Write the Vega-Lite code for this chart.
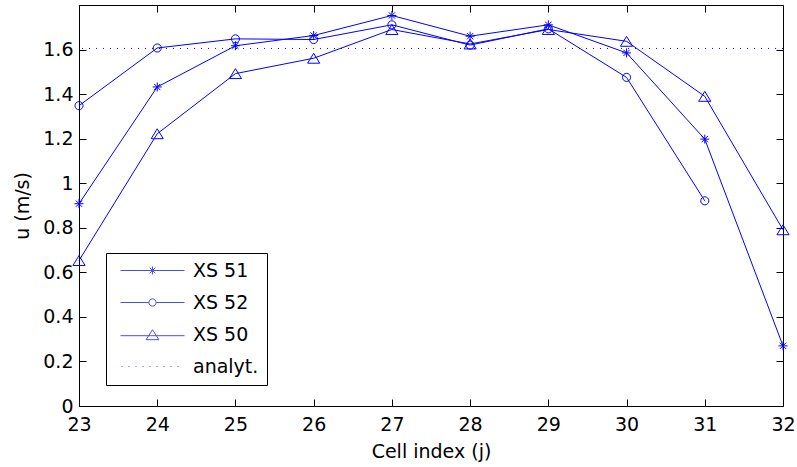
{
  "$schema": "https://vega.github.io/schema/vega-lite/v6.json",
  "width": 704,
  "height": 401,
  "autosize": {"type": "none"},
  "padding": {"left": 79, "top": 5, "right": 14, "bottom": 61},
  "background": "white",
  "config": {
    "view": {"stroke": null},
    "font": "DejaVu Sans",
    "axis": {
      "domainColor": "black", "tickColor": "black", "labelColor": "black", "titleColor": "black",
      "labelFont": "DejaVu Sans", "titleFont": "DejaVu Sans",
      "labelFontSize": 19, "titleFontSize": 19, "titleFontWeight": "normal",
      "grid": false, "tickSize": -7, "domainWidth": 1, "tickWidth": 1
    }
  },
  "datasets": {
    "pts": [
      {"series": "XS 51", "j": 23, "u": 0.908},
      {"series": "XS 51", "j": 24, "u": 1.432},
      {"series": "XS 51", "j": 25, "u": 1.617},
      {"series": "XS 51", "j": 26, "u": 1.663},
      {"series": "XS 51", "j": 27, "u": 1.753},
      {"series": "XS 51", "j": 28, "u": 1.660},
      {"series": "XS 51", "j": 29, "u": 1.711},
      {"series": "XS 51", "j": 30, "u": 1.585},
      {"series": "XS 51", "j": 31, "u": 1.198},
      {"series": "XS 51", "j": 32, "u": 0.270},
      {"series": "XS 52", "j": 23, "u": 1.348},
      {"series": "XS 52", "j": 24, "u": 1.607},
      {"series": "XS 52", "j": 25, "u": 1.648},
      {"series": "XS 52", "j": 26, "u": 1.645},
      {"series": "XS 52", "j": 27, "u": 1.711},
      {"series": "XS 52", "j": 28, "u": 1.620},
      {"series": "XS 52", "j": 29, "u": 1.693},
      {"series": "XS 52", "j": 30, "u": 1.475},
      {"series": "XS 52", "j": 31, "u": 0.921},
      {"series": "XS 50", "j": 23, "u": 0.653},
      {"series": "XS 50", "j": 24, "u": 1.222},
      {"series": "XS 50", "j": 25, "u": 1.492},
      {"series": "XS 50", "j": 26, "u": 1.561},
      {"series": "XS 50", "j": 27, "u": 1.690},
      {"series": "XS 50", "j": 28, "u": 1.625},
      {"series": "XS 50", "j": 29, "u": 1.690},
      {"series": "XS 50", "j": 30, "u": 1.637},
      {"series": "XS 50", "j": 31, "u": 1.390},
      {"series": "XS 50", "j": 32, "u": 0.791}
    ],
    "ref": [{"series": "analyt.", "u": 1.605}]
  },
  "layer": [
    {
      "data": {"name": "pts"},
      "mark": {"type": "line", "color": "#0000ff", "strokeWidth": 1},
      "encoding": {
        "x": {"field": "j", "type": "quantitative", "scale": {"domain": [23, 32], "nice": false, "zero": false},
          "axis": {"orient": "bottom", "values": [23, 24, 25, 26, 27, 28, 29, 30, 31, 32], "format": "d", "labelPadding": 16, "labelFlush": false,
            "title": "Cell index (j)", "titleY": 51, "titleBaseline": "alphabetic"}},
        "y": {"field": "u", "type": "quantitative", "scale": {"domain": [0, 1.8], "nice": false},
          "axis": {"orient": "left", "values": [0, 0.2, 0.4, 0.6, 0.8, 1, 1.2, 1.4, 1.6], "format": "~g", "labelPadding": 13,
            "title": "u (m/s)", "titleX": -51, "titleY": 200.5, "titleBaseline": "alphabetic", "titleAlign": "center", "titleAngle": -90}},
        "detail": {"field": "series"}
      }
    },
    {
      "data": {"name": "pts"},
      "mark": {"type": "point", "filled": false, "color": "#0000ff", "strokeWidth": 1, "size": 81, "opacity": 1},
      "encoding": {
        "x": {"field": "j", "type": "quantitative", "scale": {"domain": [23, 32], "nice": false, "zero": false}, "axis": null},
        "y": {"field": "u", "type": "quantitative", "scale": {"domain": [0, 1.8], "nice": false}, "axis": null},
        "shape": {"field": "series", "type": "nominal",
          "scale": {"domain": ["XS 51", "XS 52", "XS 50"],
            "range": [
              "M0,-1L0,1M-1,0L1,0M-0.7,-0.7L0.7,0.7M-0.7,0.7L0.7,-0.7",
              "M0.9,0A0.9,0.9 0 1,1 -0.9,0A0.9,0.9 0 1,1 0.9,0Z",
              "M0,-1.1L1.35,1.1L-1.35,1.1Z"
            ]},
          "legend": null}
      }
    },
    {
      "data": {"name": "ref"},
      "mark": {"type": "rule", "color": "#0000ff", "strokeWidth": 1, "strokeDash": [1, 6]},
      "encoding": {
        "y": {"field": "u", "type": "quantitative", "scale": {"domain": [0, 1.8], "nice": false}, "axis": null}
      }
    },
    {
      "data": {"name": "pts"},
      "transform": [{"filter": {"field": "series", "equal": "none"}}],
      "mark": {"type": "point", "filled": false, "color": "#0000ff", "strokeWidth": 1},
      "encoding": {
        "x": {"field": "j", "type": "quantitative", "scale": {"domain": [23, 32], "nice": false, "zero": false},
          "axis": {"orient": "top", "values": [23, 24, 25, 26, 27, 28, 29, 30, 31, 32], "labels": false, "title": null}},
        "y": {"field": "u", "type": "quantitative", "scale": {"domain": [0, 1.8], "nice": false},
          "axis": {"orient": "right", "values": [0, 0.2, 0.4, 0.6, 0.8, 1, 1.2, 1.4, 1.6], "labels": false, "title": null}},
        "shape": {"field": "series", "type": "nominal",
          "scale": {"domain": ["XS 51", "XS 52", "XS 50", "analyt."],
            "range": [
              "M-8,0L8,0M0,-1L0,1M-1,0L1,0M-0.7,-0.7L0.7,0.7M-0.7,0.7L0.7,-0.7",
              "M-8,0L-0.9,0M0.9,0L8,0M0.9,0A0.9,0.9 0 1,1 -0.9,0A0.9,0.9 0 1,1 0.9,0Z",
              "M-8,0.3L8,0.3M0,-1.2L1.6,1.3L-1.6,1.3Z",
              "M-7.75,0L-7.5,0M-6,0L-5.75,0M-4.25,0L-4,0M-2.5,0L-2.25,0M-0.75,0L-0.5,0M1,0L1.25,0M2.75,0L3,0M4.5,0L4.75,0M6.25,0L6.5,0"
            ]},
          "legend": {"orient": "none", "legendX": 27, "legendY": 248, "title": null,
            "strokeColor": "black", "fillColor": "white", "padding": 8, "cornerRadius": 0,
            "labelFont": "DejaVu Sans", "labelFontSize": 19, "labelColor": "black",
            "symbolSize": 64, "symbolStrokeWidth": 1, "symbolStrokeColor": "#0000ff", "symbolFillColor": "transparent",
            "symbolOffset": 29, "labelOffset": 31, "rowPadding": 12, "columnPadding": 0}}
      }
    }
  ],
  "resolve": {"scale": {"shape": "independent"}, "axis": {"x": "independent", "y": "independent"}}
}
